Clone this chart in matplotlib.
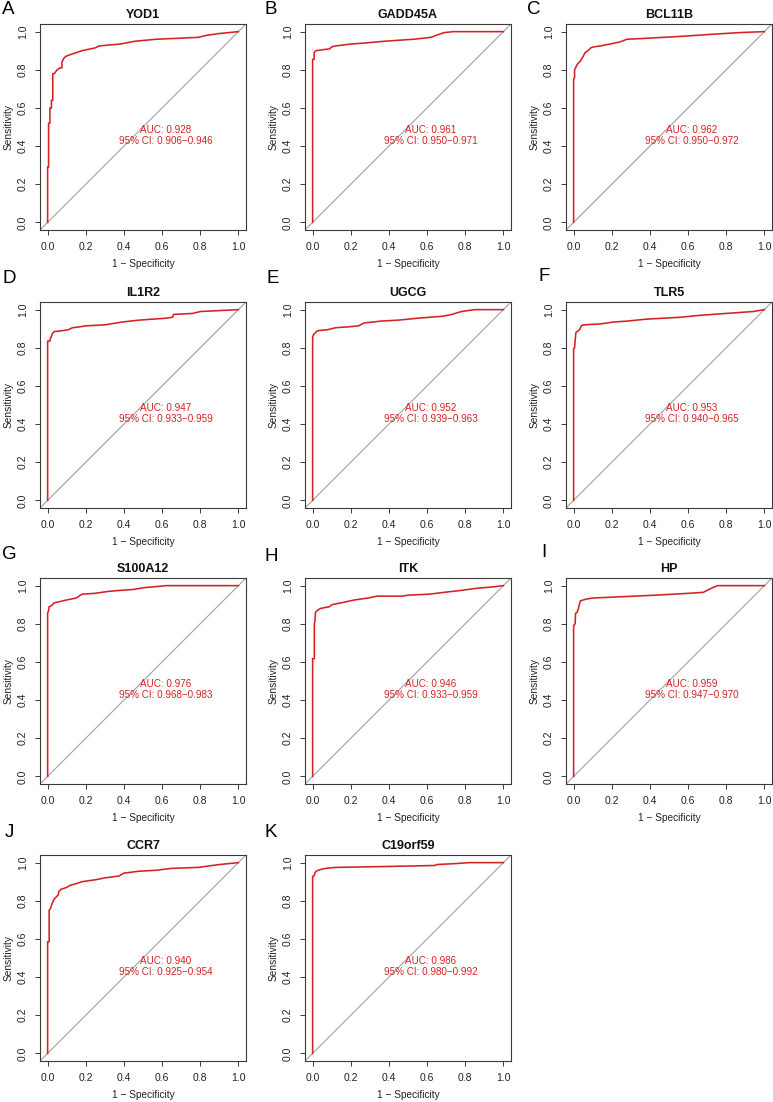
import numpy as np
import matplotlib
matplotlib.use("Agg")
import matplotlib.pyplot as plt

plt.rcParams['font.family'] = ['Liberation Sans', 'DejaVu Sans']

# panel letters, gene names and AUC text
letters = ['A', 'B', 'C', 'D', 'E', 'F', 'G', 'H', 'I', 'J', 'K']
genes = ['YOD1', 'GADD45A', 'BCL11B', 'IL1R2', 'UGCG', 'TLR5',
         'S100A12', 'ITK', 'HP', 'CCR7', 'C19orf59']
auc = ['0.928', '0.961', '0.962', '0.947', '0.952', '0.953',
       '0.976', '0.946', '0.959', '0.940', '0.986']
ci = ['0.906\u22120.946', '0.950\u22120.971', '0.950\u22120.972', '0.933\u22120.959',
      '0.939\u22120.963', '0.940\u22120.965', '0.968\u22120.983', '0.933\u22120.959',
      '0.947\u22120.970', '0.925\u22120.954', '0.980\u22120.992']

# ROC curves: 1 - specificity, sensitivity
fpr_yod1 = [0, 0, 0.005, 0.005, 0.012, 0.012, 0.02, 0.02, 0.027, 0.027, 0.035, 0.05, 0.065, 0.075,
            0.075, 0.085, 0.095, 0.12, 0.18, 0.25, 0.27, 0.38, 0.46, 0.57, 0.79, 0.83, 0.9, 1.0]
tpr_yod1 = [0, 0.29, 0.29, 0.52, 0.52, 0.60, 0.60, 0.64, 0.64, 0.78, 0.78, 0.80, 0.81, 0.81,
            0.84, 0.86, 0.87, 0.88, 0.90, 0.915, 0.925, 0.935, 0.95, 0.96, 0.97, 0.98, 0.99, 1.0]

fpr_gadd = [0, 0, 0.008, 0.008, 0.017, 0.09, 0.1, 0.12, 0.2, 0.27, 0.38, 0.53, 0.62, 0.66, 0.69, 0.74, 1.0]
tpr_gadd = [0, 0.855, 0.855, 0.89, 0.9, 0.91, 0.92, 0.925, 0.935, 0.94, 0.95, 0.96, 0.97, 0.985, 0.995, 1.0, 1.0]

fpr_bcl = [0, 0, 0.005, 0.005, 0.01, 0.02, 0.035, 0.05, 0.06, 0.075, 0.09, 0.105, 0.14, 0.19,
           0.24, 0.28, 0.38, 0.56, 0.71, 0.87, 1.0]
tpr_bcl = [0, 0.75, 0.76, 0.80, 0.81, 0.83, 0.845, 0.87, 0.89, 0.9, 0.915, 0.92, 0.925, 0.935,
           0.945, 0.96, 0.965, 0.975, 0.985, 0.995, 1.0]

fpr_il1r2 = [0, 0, 0.012, 0.015, 0.02, 0.025, 0.035, 0.08, 0.11, 0.13, 0.17, 0.2, 0.3, 0.39,
             0.48, 0.62, 0.655, 0.66, 0.76, 0.8, 0.9, 1.0]
tpr_il1r2 = [0, 0.835, 0.835, 0.85, 0.86, 0.875, 0.885, 0.89, 0.895, 0.905, 0.91, 0.915, 0.92, 0.935,
             0.945, 0.955, 0.96, 0.975, 0.98, 0.99, 0.995, 1.0]

fpr_ugcg = [0, 0, 0.005, 0.012, 0.02, 0.03, 0.08, 0.12, 0.19, 0.24, 0.27, 0.36, 0.45, 0.55,
            0.68, 0.73, 0.78, 0.85, 1.0]
tpr_ugcg = [0, 0.855, 0.87, 0.875, 0.885, 0.89, 0.895, 0.905, 0.91, 0.915, 0.93, 0.94, 0.945, 0.955,
            0.965, 0.975, 0.99, 1.0, 1.0]

fpr_tlr5 = [0, 0, 0.005, 0.008, 0.012, 0.025, 0.035, 0.04, 0.05, 0.14, 0.21, 0.28, 0.38, 0.56,
            0.66, 0.8, 0.94, 1.0]
tpr_tlr5 = [0, 0.795, 0.8, 0.84, 0.88, 0.89, 0.9, 0.915, 0.92, 0.925, 0.935, 0.94, 0.95, 0.96,
            0.97, 0.98, 0.99, 1.0]

fpr_s100 = [0, 0, 0.005, 0.008, 0.02, 0.025, 0.035, 0.08, 0.1, 0.15, 0.165, 0.18, 0.25, 0.32,
            0.38, 0.45, 0.51, 0.57, 0.62, 1.0]
tpr_s100 = [0, 0.855, 0.87, 0.89, 0.895, 0.9, 0.91, 0.92, 0.925, 0.935, 0.945, 0.955, 0.96, 0.97,
            0.975, 0.98, 0.99, 0.995, 1.0, 1.0]

fpr_itk = [0, 0, 0.009, 0.009, 0.012, 0.015, 0.025, 0.04, 0.065, 0.09, 0.1, 0.15, 0.22, 0.29,
           0.34, 0.47, 0.5, 0.61, 0.69, 0.78, 0.85, 0.96, 1.0]
tpr_itk = [0, 0.617, 0.617, 0.8, 0.81, 0.86, 0.87, 0.88, 0.885, 0.89, 0.9, 0.91, 0.925, 0.935,
           0.945, 0.945, 0.95, 0.955, 0.965, 0.975, 0.985, 0.995, 1.0]

fpr_hp = [0, 0, 0.008, 0.01, 0.018, 0.025, 0.03, 0.035, 0.05, 0.07, 0.1, 0.21, 0.43, 0.61,
          0.68, 0.71, 0.73, 0.755, 1.0]
tpr_hp = [0, 0.79, 0.8, 0.855, 0.86, 0.88, 0.9, 0.92, 0.925, 0.93, 0.935, 0.94, 0.95, 0.96,
          0.965, 0.98, 0.99, 1.0, 1.0]

fpr_ccr7 = [0, 0, 0.008, 0.008, 0.015, 0.025, 0.035, 0.045, 0.055, 0.06, 0.07, 0.1, 0.115, 0.15,
            0.18, 0.25, 0.3, 0.375, 0.4, 0.48, 0.57, 0.65, 0.79, 0.9, 1.0]
tpr_ccr7 = [0, 0.585, 0.585, 0.75, 0.76, 0.79, 0.81, 0.82, 0.83, 0.85, 0.86, 0.87, 0.88, 0.89,
            0.9, 0.91, 0.92, 0.93, 0.945, 0.955, 0.96, 0.97, 0.975, 0.99, 1.0]

fpr_c19 = [0, 0, 0.007, 0.012, 0.018, 0.03, 0.045, 0.07, 0.12, 0.4, 0.64, 0.65, 0.75, 0.82, 1.0]
tpr_c19 = [0, 0.928, 0.93, 0.945, 0.955, 0.96, 0.965, 0.97, 0.975, 0.98, 0.985, 0.99, 0.995, 1.0, 1.0]

fprs = [fpr_yod1, fpr_gadd, fpr_bcl, fpr_il1r2, fpr_ugcg, fpr_tlr5,
        fpr_s100, fpr_itk, fpr_hp, fpr_ccr7, fpr_c19]
tprs = [tpr_yod1, tpr_gadd, tpr_bcl, tpr_il1r2, tpr_ugcg, tpr_tlr5,
        tpr_s100, tpr_itk, tpr_hp, tpr_ccr7, tpr_c19]

W, H = 773, 1102
fig = plt.figure(figsize=(W / 100, H / 100), dpi=100)

col_left = [40, 305, 566]
row_top = [24, 302, 578, 855]
box = 206
letter_pos = [(2, 1), (265, 1), (527, 1), (2, 270), (266, 270), (538, 268),
              (2, 546), (265, 548), (541, 544), (5, 824), (265, 824)]

red = '#d42222'
frame = '#3a3a3a'

for i in range(len(genes)):
    r, c = divmod(i, 3)
    x0 = col_left[c]
    y0 = row_top[r]
    ax = fig.add_axes([x0 / W, 1 - (y0 + box) / H, box / W, box / H])
    ax.axline((0, 0), (1, 1), color='#a0a0a0', lw=0.8, zorder=1)
    ax.plot(fprs[i], tprs[i], color=red, lw=1.15, zorder=2)
    ax.set_xlim(-0.04, 1.04)
    ax.set_ylim(-0.04, 1.04)
    ticks = np.arange(0, 1.01, 0.2)
    ax.set_xticks(ticks)
    ax.set_yticks(ticks)
    ax.set_xticklabels(['%.1f' % t for t in ticks])
    ax.set_yticklabels(['%.1f' % t for t in ticks], rotation=90, va='center')
    ax.tick_params(length=3.6, width=0.7, color=frame, labelsize=7.5, pad=5, labelcolor='#222222')
    for s in ax.spines.values():
        s.set_color(frame)
        s.set_linewidth(0.8)
    ax.set_title(genes[i], fontsize=9, fontweight='bold', pad=4, color='#111111')
    ax.set_xlabel('1 \u2212 Specificity', fontsize=7.3, labelpad=5, color='#222222')
    ax.set_ylabel('Sensitivity', fontsize=7.3, labelpad=3, color='#222222')
    ax.text(0.62, 0.455, 'AUC: %s\n95%% CI: %s' % (auc[i], ci[i]), color=red,
            fontsize=7.1, ha='center', va='center', linespacing=1.15)
    lx, ly = letter_pos[i]
    fig.text(lx / W, 1 - ly / H, letters[i], fontsize=13.5, ha='left', va='top')

fig.savefig('out.png', dpi=100)
